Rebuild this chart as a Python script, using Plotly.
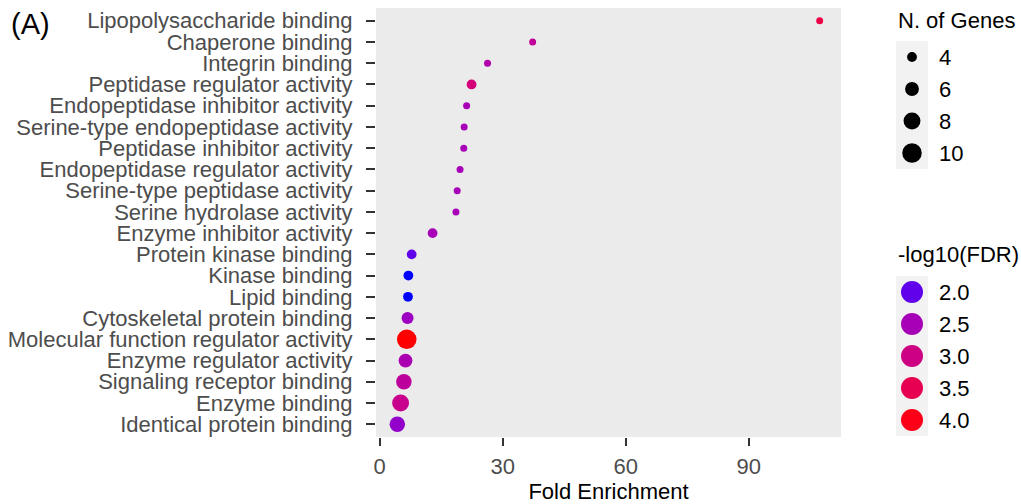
import numpy as np
import plotly.graph_objects as go

# GO molecular-function enrichment results
terms = [
    "Lipopolysaccharide binding",
    "Chaperone binding",
    "Integrin binding",
    "Peptidase regulator activity",
    "Endopeptidase inhibitor activity",
    "Serine-type endopeptidase activity",
    "Peptidase inhibitor activity",
    "Endopeptidase regulator activity",
    "Serine-type peptidase activity",
    "Serine hydrolase activity",
    "Enzyme inhibitor activity",
    "Protein kinase binding",
    "Kinase binding",
    "Lipid binding",
    "Cytoskeletal protein binding",
    "Molecular function regulator activity",
    "Enzyme regulator activity",
    "Signaling receptor binding",
    "Enzyme binding",
    "Identical protein binding",
]
fold_enrichment = [107.3, 37.3, 26.3, 22.4, 21.2, 20.6, 20.5, 19.6, 18.9, 18.6,
                   12.9, 7.8, 7.0, 6.9, 6.8, 6.6, 6.3, 5.9, 5.1, 4.3]
n_genes = [3, 3, 3, 4, 3, 3, 3, 3, 3, 3, 4, 4, 4, 4, 5, 10, 6, 7, 8, 7]
neg_log10_fdr = [3.6, 2.8, 2.6, 3.1, 2.5, 2.5, 2.5, 2.5, 2.5, 2.5,
                 2.5, 2.0, 1.8, 1.8, 2.4, 4.1, 2.55, 2.75, 2.9, 2.3]

size_breaks = [4, 6, 8, 10]
fdr_breaks = [2.0, 2.5, 3.0, 3.5, 4.0]
x_ticks = [0, 30, 60, 90]

W, H = 1021, 504
FONT = "Liberation Sans, Arial, sans-serif"
FS = 22


# ---- blue -> red gradient interpolated in CIELAB ----
def _srgb_to_lab(rgb):
    c = np.array(rgb, dtype=float) / 255.0
    c = np.where(c <= 0.04045, c / 12.92, ((c + 0.055) / 1.055) ** 2.4)
    m = np.array([[0.4124564, 0.3575761, 0.1804375],
                  [0.2126729, 0.7151522, 0.0721750],
                  [0.0193339, 0.1191920, 0.9503041]])
    xyz = m @ c / np.array([0.95047, 1.0, 1.08883])
    f = np.where(xyz > 216 / 24389, np.cbrt(xyz), (24389 / 27 * xyz + 16) / 116)
    return np.array([116 * f[1] - 16, 500 * (f[0] - f[1]), 200 * (f[1] - f[2])])


def _lab_to_srgb(lab):
    L, a, b = lab
    fy = (L + 16) / 116
    fx = fy + a / 500
    fz = fy - b / 200
    f = np.array([fx, fy, fz])
    xyz = np.where(f ** 3 > 216 / 24389, f ** 3, (116 * f - 16) / (24389 / 27))
    xyz = xyz * np.array([0.95047, 1.0, 1.08883])
    m = np.array([[3.2404542, -1.5371385, -0.4985314],
                  [-0.9692660, 1.8760108, 0.0415560],
                  [0.0556434, -0.2040259, 1.0572252]])
    c = m @ xyz
    c = np.clip(c, 0, 1)
    c = np.where(c <= 0.0031308, 12.92 * c, 1.055 * c ** (1 / 2.4) - 0.055)
    r, g, bb = (np.clip(c, 0, 1) * 255).round().astype(int)
    return f"rgb({r},{g},{bb})"


lab_lo = _srgb_to_lab((0, 0, 255))
lab_hi = _srgb_to_lab((255, 0, 0))
colorscale = [[t, _lab_to_srgb(lab_lo + t * (lab_hi - lab_lo))]
              for t in np.linspace(0, 1, 41)]
CMIN, CMAX = 1.8, 4.1


def dot_diameter(n):
    # area grows linearly with the gene count
    return float(np.sqrt(49 + 47.3 * (np.asarray(n) - 3)))


def px_x(p):
    return p / W


def px_y(p):
    return 1 - p / H


fig = go.Figure()

# main dot plot
fig.add_trace(go.Scatter(
    x=fold_enrichment, y=terms, mode="markers",
    marker=dict(size=[dot_diameter(n) for n in n_genes],
                color=neg_log10_fdr, colorscale=colorscale,
                cmin=CMIN, cmax=CMAX, line=dict(width=0), opacity=1),
    showlegend=False, hoverinfo="x+y", xaxis="x", yaxis="y",
))

# size key
size_labels = [str(b) for b in size_breaks]
fig.add_trace(go.Scatter(
    x=[0] * len(size_breaks), y=size_labels, mode="markers",
    marker=dict(size=[dot_diameter(b) for b in size_breaks], color="#000000",
                opacity=1, line=dict(width=0)),
    showlegend=False, hoverinfo="skip", xaxis="x2", yaxis="y2",
))

# colour key
fdr_labels = [f"{b:.1f}" for b in fdr_breaks]
fig.add_trace(go.Scatter(
    x=[0] * len(fdr_breaks), y=fdr_labels, mode="markers",
    marker=dict(size=22, color=fdr_breaks, colorscale=colorscale,
                cmin=CMIN, cmax=CMAX, opacity=1, line=dict(width=0)),
    showlegend=False, hoverinfo="skip", xaxis="x3", yaxis="y3",
))

tick_font = dict(family=FONT, size=FS, color="#4D4D4D")
key_font = dict(family=FONT, size=FS, color="black")

fig.update_layout(
    width=W, height=H,
    margin=dict(l=0, r=0, t=0, b=0),
    paper_bgcolor="white", plot_bgcolor="rgba(0,0,0,0)",
    font=dict(family=FONT, size=FS, color="black"),
    xaxis=dict(
        domain=[px_x(376), px_x(841)], range=[-0.9, 112.5],
        tickmode="array", tickvals=x_ticks, ticktext=[str(v) for v in x_ticks],
        ticks="outside", ticklen=8, tickwidth=2, tickcolor="#333333",
        tickfont=tick_font, ticklabelstandoff=2,
        showgrid=False, zeroline=False, showline=False,
        title=dict(text="Fold Enrichment", font=key_font, standoff=8),
        automargin=False, anchor="y",
    ),
    yaxis=dict(
        domain=[px_y(437), px_y(8)], type="category",
        categoryorder="array", categoryarray=terms[::-1],
        tickmode="array", tickvals=terms, ticktext=terms,
        range=[-0.6, len(terms) - 0.4],
        ticks="outside", ticklen=9, tickwidth=2, tickcolor="#333333",
        tickfont=tick_font, ticklabelstandoff=9,
        showgrid=False, zeroline=False, showline=False,
        automargin=False, anchor="x",
    ),
    xaxis2=dict(domain=[px_x(896), px_x(928)], range=[-1, 1], visible=False,
                anchor="y2", fixedrange=True),
    yaxis2=dict(domain=[px_y(169), px_y(41)], type="category",
                categoryorder="array", categoryarray=size_labels[::-1],
                tickmode="array", tickvals=size_labels, ticktext=size_labels,
                range=[-0.5, len(size_breaks) - 0.5], side="right",
                anchor="x2", ticks="", tickfont=key_font, ticklabelstandoff=10,
                showgrid=False, zeroline=False, showline=False,
                automargin=False, fixedrange=True),
    xaxis3=dict(domain=[px_x(896), px_x(928)], range=[-1, 1], visible=False,
                anchor="y3", fixedrange=True),
    yaxis3=dict(domain=[px_y(436), px_y(276)], type="category",
                categoryorder="array", categoryarray=fdr_labels[::-1],
                tickmode="array", tickvals=fdr_labels, ticktext=fdr_labels,
                range=[-0.5, len(fdr_breaks) - 0.5], side="right",
                anchor="x3", ticks="", tickfont=key_font, ticklabelstandoff=10,
                showgrid=False, zeroline=False, showline=False,
                automargin=False, fixedrange=True),
    shapes=[
        dict(type="rect", xref="x domain", yref="y domain", x0=0, x1=1, y0=0, y1=1,
             fillcolor="#EBEBEB", line=dict(width=0), layer="below"),
        dict(type="rect", xref="x2 domain", yref="y2 domain", x0=0, x1=1, y0=0, y1=1,
             fillcolor="#F2F2F2", line=dict(width=0), layer="below"),
        dict(type="rect", xref="x3 domain", yref="y3 domain", x0=0, x1=1, y0=0, y1=1,
             fillcolor="#F2F2F2", line=dict(width=0), layer="below"),
    ],
    annotations=[
        dict(text="(A)", x=px_x(9), y=px_y(24), xref="paper", yref="paper",
             xanchor="left", yanchor="middle", showarrow=False,
             font=dict(family=FONT, size=29, color="black")),
        dict(text="N. of Genes", x=px_x(896), y=px_y(21), xref="paper", yref="paper",
             xanchor="left", yanchor="middle", showarrow=False, font=key_font),
        dict(text="-log10(FDR)", x=px_x(896), y=px_y(254), xref="paper", yref="paper",
             xanchor="left", yanchor="middle", showarrow=False, font=key_font),
    ],
)

fig.write_html("out.html")
